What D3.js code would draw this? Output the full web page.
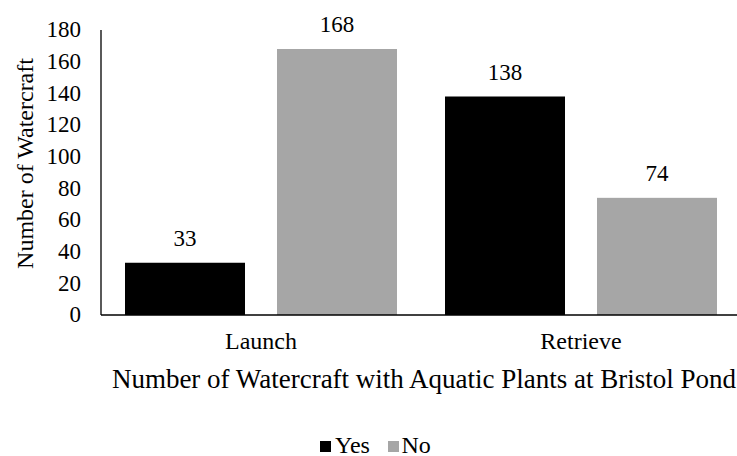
<!DOCTYPE html>
<html>
<head>
<meta charset="utf-8">
<script src="https://cdn.jsdelivr.net/npm/d3@7"></script>
</head>
<body style="margin:0;padding:0;background:#fff">
<svg id="chart" width="737" height="456" style="display:block;background:#fff"></svg>
<script>
const categories = ["Launch", "Retrieve"];
const seriesNames = ["Yes", "No"];
const yesValues = [33, 138];
const noValues = [168, 74];
const yTicks = [0, 20, 40, 60, 80, 100, 120, 140, 160, 180];
const colors = ["#000000", "#a6a6a6"];

const seriesValues = [yesValues, noValues];
const data = categories.map((c, i) => ({
  category: c,
  values: seriesNames.map((s, j) => ({ series: s, value: seriesValues[j][i], idx: j }))
}));

const FONT = '"Liberation Serif"';
const svg = d3.select("#chart");
const plotLeft = 101, plotRight = 741, plotTop = 30, plotBottom = 315;

const x0 = d3.scaleBand().domain(categories).range([plotLeft, plotRight]).padding(0);
const x1 = d3.scaleBand().domain(seriesNames).range([24, x0.bandwidth() - 24]).paddingInner(0.2105).paddingOuter(0);
const y = d3.scaleLinear().domain([0, 180]).range([plotBottom, plotTop]);

// bars
const groups = svg.append("g").selectAll("g").data(data).join("g")
  .attr("transform", d => `translate(${x0(d.category)},0)`);
groups.selectAll("rect").data(d => d.values).join("rect")
  .attr("x", d => x1(d.series))
  .attr("y", d => y(d.value))
  .attr("width", x1.bandwidth())
  .attr("height", d => y(0) - y(d.value))
  .attr("fill", d => colors[d.idx]);

// data labels
groups.selectAll("text.lbl").data(d => d.values).join("text")
  .attr("class", "lbl")
  .attr("x", d => x1(d.series) + x1.bandwidth() / 2)
  .attr("y", d => y(d.value) - 17)
  .attr("text-anchor", "middle")
  .style("font-family", FONT)
  .style("font-size", "23px")
  .attr("fill", "#000")
  .text(d => d.value);

// y axis
const yAxis = d3.axisLeft(y).tickValues(yTicks).tickSize(0).tickPadding(20);
const yg = svg.append("g").attr("transform", `translate(${plotLeft},0)`).call(yAxis);
yg.select(".domain").attr("stroke", "#000").attr("stroke-width", 1.3).attr("d", `M0,${plotTop}V${plotBottom}`);
yg.selectAll("text").style("font-size", "23px").style("font-family", FONT).attr("fill", "#000").attr("dy", "0.3em");

// x axis
const xAxis = d3.axisBottom(x0).tickSize(0).tickPadding(0);
const xg = svg.append("g").attr("transform", `translate(0,${plotBottom})`).call(xAxis);
xg.select(".domain").attr("stroke", "#000").attr("stroke-width", 1.3).attr("d", `M${plotLeft},0H${plotRight}`);
xg.selectAll("text").style("font-size", "24px").style("font-family", FONT).attr("fill", "#000")
  .attr("dy", null).attr("y", 34);

// axis titles
svg.append("text")
  .attr("transform", "translate(33,163.5) rotate(-90)")
  .attr("text-anchor", "middle")
  .style("font-family", FONT)
  .style("font-size", "24px")
  .attr("fill", "#000")
  .text("Number of Watercraft");

svg.append("text")
  .attr("x", 424)
  .attr("y", 388)
  .attr("text-anchor", "middle")
  .style("font-family", FONT)
  .style("font-size", "27px")
  .attr("fill", "#000")
  .text("Number of Watercraft with Aquatic Plants at Bristol Pond");

// legend
const legendItems = [
  { name: "Yes", color: colors[0], sx: 320, tx: 335 },
  { name: "No", color: colors[1], sx: 388, tx: 401.5 }
];
const lg = svg.append("g");
lg.selectAll("rect").data(legendItems).join("rect")
  .attr("x", d => d.sx).attr("y", 441)
  .attr("width", 11).attr("height", 11)
  .attr("fill", d => d.color);
lg.selectAll("text").data(legendItems).join("text")
  .attr("x", d => d.tx).attr("y", 452.5)
  .style("font-family", FONT)
  .style("font-size", "24px")
  .attr("fill", "#000")
  .text(d => d.name);
</script>
</body>
</html>
